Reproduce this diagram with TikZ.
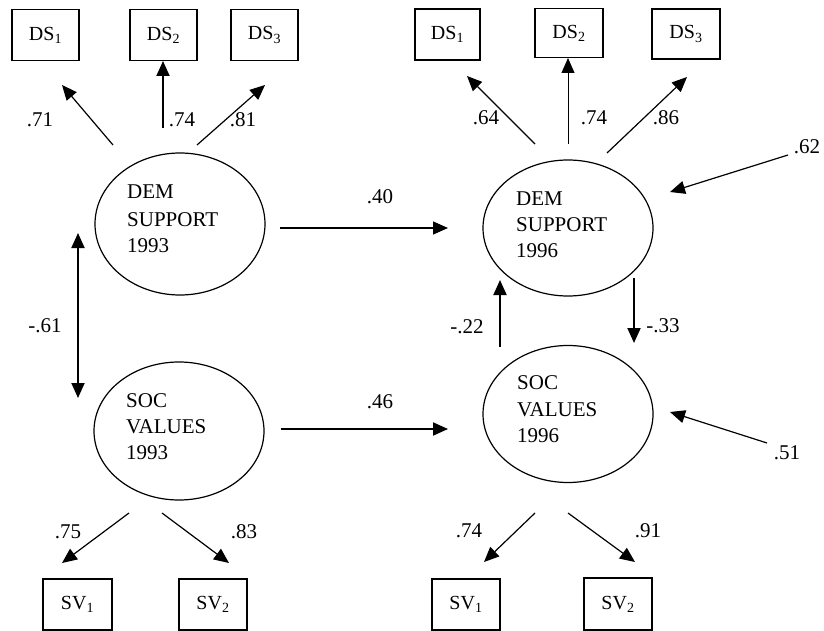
\documentclass[tikz,border=0pt]{standalone}
\usepackage{fontspec}
\setmainfont{Liberation Serif}
\usetikzlibrary{shapes.geometric,arrows.meta}
\begin{document}
\begin{tikzpicture}[x=1pt,y=-1pt,
  lat/.style={draw, ellipse, line width=1.2pt, inner sep=0pt, minimum width=170pt, minimum height=142pt},
  obs/.style={draw, rectangle, line width=1.3pt, minimum width=67pt, minimum height=51pt, inner sep=0pt, font=\fontsize{20}{24}\selectfont},
  lbl/.style={inner sep=0pt, font=\fontsize{21}{25}\selectfont},
  txt/.style={inner sep=0pt, anchor=base west, font=\fontsize{21}{25}\selectfont},
  arr/.style={-{Triangle[length=15pt,width=13pt]}, line width=1.2pt},
  tarr/.style={-{Triangle[length=15pt,width=13pt]}, line width=1.9pt},
  darr/.style={{Triangle[length=15pt,width=13pt]}-{Triangle[length=15pt,width=13pt]}, line width=1.9pt}
]
\useasboundingbox (0,0) rectangle (824,631);

% latent variables
\node[lat] (d93) at (180,224) {};
\node[lat, minimum height=138pt] (s93) at (179,431) {};
\node[lat, minimum height=136pt] (d96) at (568,228) {};
\node[lat, minimum height=137pt] (s96) at (568,414) {};

\node[txt] (d93a) at (127,199) {DEM};
\node[txt] (d93b) at (127,226) {SUPPORT};
\node[txt] (d93c) at (127,252) {1993};
\node[txt] (s93a) at (126,407) {SOC};
\node[txt] (s93b) at (126,433) {VALUES};
\node[txt] (s93c) at (126,459) {1993};
\node[txt] (d96a) at (516,205) {DEM};
\node[txt] (d96b) at (516,231) {SUPPORT};
\node[txt] (d96c) at (516,257) {1996};
\node[txt] (s96a) at (517,389) {SOC};
\node[txt] (s96b) at (517,416) {VALUES};
\node[txt] (s96c) at (517,442) {1996};

% observed indicators
\node[obs] (lds1) at (45.5,35) {DS\textsubscript{1}};
\node[obs] (lds2) at (163.5,35) {DS\textsubscript{2}};
\node[obs] (lds3) at (264.5,35) {DS\textsubscript{3}};
\node[obs, minimum width=65pt] (rds1) at (447.5,34.5) {DS\textsubscript{1}};
\node[obs, minimum width=68pt, minimum height=49pt] (rds2) at (569,33) {DS\textsubscript{2}};
\node[obs, minimum width=68pt, minimum height=50pt] (rds3) at (686,34) {DS\textsubscript{3}};
\node[obs, minimum width=69pt] (lsv1) at (77.5,604.5) {SV\textsubscript{1}};
\node[obs, minimum width=68pt] (lsv2) at (213,604.5) {SV\textsubscript{2}};
\node[obs, minimum width=68pt] (rsv1) at (466,604.5) {SV\textsubscript{1}};
\node[obs, minimum width=68pt, minimum height=52pt] (rsv2) at (618,604) {SV\textsubscript{2}};

% connector ends
\coordinate (a1s) at (113,145); \coordinate (a1e) at (62,85);
\coordinate (a2s) at (163,128); \coordinate (a2e) at (163,61);
\coordinate (a3s) at (197,145); \coordinate (a3e) at (265,85);
\coordinate (b1s) at (535,144); \coordinate (b1e) at (467,76);
\coordinate (b2s) at (568,144); \coordinate (b2e) at (568,58);
\coordinate (b3s) at (607,153); \coordinate (b3e) at (687,77);
\coordinate (c1s) at (129,513); \coordinate (c1e) at (62,563);
\coordinate (c2s) at (162,513); \coordinate (c2e) at (229,563);
\coordinate (e1s) at (535,513); \coordinate (e1e) at (484,562);
\coordinate (e2s) at (568,513); \coordinate (e2e) at (635,562);
\coordinate (p1s) at (280,228); \coordinate (p1e) at (448,228);
\coordinate (p2s) at (281,429); \coordinate (p2e) at (448,429);
\coordinate (r1s) at (78,233); \coordinate (r1e) at (78,398);
\coordinate (q1s) at (500,347); \coordinate (q1e) at (500,280);
\coordinate (q2s) at (634,278); \coordinate (q2e) at (634,343);
\coordinate (z1s) at (788,155); \coordinate (z1e) at (670,192);
\coordinate (z2s) at (767,443); \coordinate (z2e) at (670,412);

\draw[arr] (a1s) -- (a1e);
\draw[tarr] (a2s) -- (a2e);
\draw[arr] (a3s) -- (a3e);
\draw[arr] (b1s) -- (b1e);
\draw[arr, line width=0.8pt] (b2s) -- (b2e);
\draw[arr] (b3s) -- (b3e);
\draw[arr] (c1s) -- (c1e);
\draw[arr] (c2s) -- (c2e);
\draw[arr] (e1s) -- (e1e);
\draw[arr] (e2s) -- (e2e);
\draw[arr] (p1s) -- (p1e);
\draw[tarr] (p2s) -- (p2e);
\draw[darr] (r1s) -- (r1e);
\draw[tarr] (q1s) -- (q1e);
\draw[tarr] (q2s) -- (q2e);
\draw[arr] (z1s) -- (z1e);
\draw[arr] (z2s) -- (z2e);

% coefficients
\node[lbl] (l71) at (40,120) {.71};
\node[lbl] (l74a) at (182,120) {.74};
\node[lbl] (l81) at (243,120) {.81};
\node[lbl] (l64) at (486,118) {.64};
\node[lbl] (l74b) at (594,118) {.74};
\node[lbl] (l86) at (666,118) {.86};
\node[lbl] (l62) at (807,147) {.62};
\node[lbl] (l40) at (380,197) {.40};
\node[lbl] (l46) at (380,402) {.46};
\node[lbl] (l61) at (45,326) {-.61};
\node[lbl] (l22) at (467,327) {-.22};
\node[lbl] (l33) at (663,326) {-.33};
\node[lbl] (l51) at (787,453) {.51};
\node[lbl] (l75) at (68,532) {.75};
\node[lbl] (l83) at (244,532) {.83};
\node[lbl] (l74c) at (469,531) {.74};
\node[lbl] (l91) at (648,531) {.91};
\end{tikzpicture}
\end{document}
